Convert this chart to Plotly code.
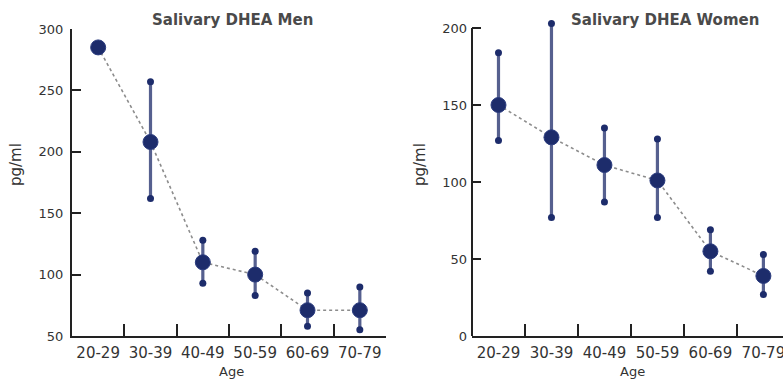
import plotly.graph_objects as go

ages = ['20-29', '30-39', '40-49', '50-59', '60-69', '70-79']
men_mean = [285, 208, 110, 100, 71, 71]
men_upper = [None, 257, 128, 119, 85, 90]
men_lower = [None, 162, 93, 83, 58, 55]
women_mean = [150, 129, 111, 101, 55, 39]
women_upper = [184, 203, 135, 128, 69, 53]
women_lower = [127, 77, 87, 77, 42, 27]

W, H = 783, 382
NAVY = '#1d2c6b'
ERR = '#56608f'
FONT = 'DejaVu Sans'
TXT = '#333333'
AX = '#222222'


def px_x(p):
    return p / W


def px_y(p):
    return (H - p) / H


def err_xy(lo, hi):
    xs, ys = [], []
    for a, l, h in zip(ages, lo, hi):
        if l is None or h is None:
            continue
        xs += [a, a, None]
        ys += [l, h, None]
    return xs, ys


fig = go.Figure()

for idx, (mean, lo, hi) in enumerate([(men_mean, men_lower, men_upper),
                                       (women_mean, women_lower, women_upper)]):
    xa = 'x' if idx == 0 else 'x2'
    ya = 'y' if idx == 0 else 'y2'
    fig.add_trace(go.Scatter(x=ages, y=mean, mode='lines', xaxis=xa, yaxis=ya,
                             line=dict(color='#8c8c8c', width=1.6, dash='dot'),
                             hoverinfo='skip', showlegend=False))
    ex, ey = err_xy(lo, hi)
    fig.add_trace(go.Scatter(x=ex, y=ey, mode='lines', xaxis=xa, yaxis=ya,
                             line=dict(color=ERR, width=3.2),
                             connectgaps=False, showlegend=False))
    fig.add_trace(go.Scatter(x=[e for e in ex if e is not None],
                             y=[e for e in ey if e is not None],
                             mode='markers', xaxis=xa, yaxis=ya,
                             marker=dict(color=NAVY, size=7),
                             showlegend=False, cliponaxis=False))
    fig.add_trace(go.Scatter(x=ages, y=mean, mode='markers', xaxis=xa, yaxis=ya,
                             marker=dict(color=NAVY, size=15,
                                         line=dict(color='#2a3b7e', width=1)),
                             showlegend=False, cliponaxis=False))

xcommon = dict(type='category', categoryorder='array', categoryarray=ages,
               tickson='boundaries', ticks='inside', ticklen=12, tickwidth=2,
               tickcolor=AX, showline=True, linewidth=2, linecolor=AX,
               showgrid=False, zeroline=False, fixedrange=True, automargin=False,
               tickangle=0,
               tickfont=dict(family=FONT, size=15, color=TXT),
               ticklabelstandoff=2)
ycommon = dict(ticks='inside', ticklen=9, tickwidth=2, tickcolor=AX,
               showline=True, linewidth=2, linecolor=AX, showgrid=False,
               zeroline=False, fixedrange=True, automargin=False,
               tickfont=dict(family=FONT, size=13, color=TXT),
               ticklabelstandoff=4)

y2_top = 205
y2_top_px = 336 - y2_top / 200 * (336 - 28)

fig.update_layout(
    width=W, height=H, margin=dict(l=0, r=0, t=0, b=0, autoexpand=False),
    paper_bgcolor='white', plot_bgcolor='white', showlegend=False,
    xaxis=dict(xcommon, domain=[px_x(72), px_x(386)], range=[-0.5, 5.5], anchor='y'),
    yaxis=dict(ycommon, domain=[px_y(336), px_y(29)], range=[50, 300],
               tickvals=[50, 100, 150, 200, 250, 300], anchor='x'),
    xaxis2=dict(xcommon, domain=[px_x(472), 1.0], range=[-0.5, 5.37], anchor='y2'),
    yaxis2=dict(ycommon, domain=[px_y(336), px_y(y2_top_px)], range=[0, y2_top],
                tickvals=[0, 50, 100, 150, 200], anchor='x2', showline=False),
)

# y-axis line of the right panel, drawn only up to its last tick (200)
fig.add_shape(type='line', xref='x2 domain', yref='y2', x0=0, x1=0, y0=0, y1=200,
              line=dict(color=AX, width=2), layer='above')

ann = []
for x, t in [(233, 'Salivary DHEA Men'), (665, 'Salivary DHEA Women')]:
    ann.append(dict(x=px_x(x), y=px_y(20), xref='paper', yref='paper', text=t,
                    showarrow=False, xanchor='center', yanchor='middle',
                    font=dict(family=FONT, size=15, color='#4a4a4a', weight='bold')))
for x in [231, 632]:
    ann.append(dict(x=px_x(x), y=px_y(371), xref='paper', yref='paper', text='Age',
                    showarrow=False, xanchor='center', yanchor='middle',
                    font=dict(family=FONT, size=13, color=TXT)))
for x in [16, 420]:
    ann.append(dict(x=px_x(x), y=px_y(165), xref='paper', yref='paper', text='pg/ml',
                    showarrow=False, xanchor='center', yanchor='middle', textangle=-90,
                    font=dict(family=FONT, size=15, color=TXT)))
fig.update_layout(annotations=ann)

fig.write_html('out.html', config={'displayModeBar': False},
               post_script="document.body.style.margin='0';"
                           "document.body.style.overflow='hidden';")
